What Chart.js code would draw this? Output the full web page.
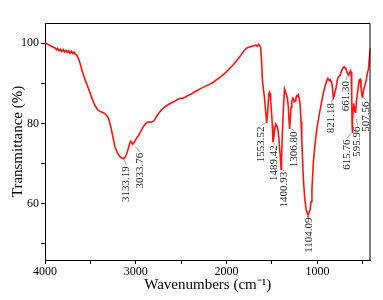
<!DOCTYPE html>
<html>
<head>
<meta charset="utf-8">
<script src="https://cdn.jsdelivr.net/npm/chart.js@4"></script>
<style>
  html, body { margin: 0; padding: 0; background: #fff; }
  #ftir { display: block; }
</style>
</head>
<body>
<canvas id="ftir" width="383" height="300"></canvas>
<script>
// FTIR 스펙트럼 데이터 (파수 cm-1, 투과율 %)
const wavenumbers = [
  4000, 3960, 3920, 3890, 3870, 3860, 3845, 3830, 3815, 3800, 3785, 3770, 3755, 3740, 3725, 3710,
  3695, 3680, 3665, 3650, 3630, 3614, 3590, 3559, 3530, 3504, 3475, 3449, 3420, 3394, 3360, 3339,
  3315, 3300, 3285, 3269, 3250, 3232, 3205, 3177, 3150, 3133, 3115, 3100, 3082, 3065, 3056, 3045,
  3034, 3020, 2995, 2972, 2945, 2917, 2890, 2862, 2835, 2807, 2790, 2770, 2745, 2717, 2680, 2641,
  2600, 2571, 2540, 2516, 2480, 2458, 2420, 2384, 2340, 2292, 2250, 2200, 2150, 2108, 2060, 2017,
  1970, 1926, 1890, 1852, 1815, 1778, 1740, 1705, 1680, 1660, 1650, 1635, 1624, 1615, 1606, 1595,
  1584, 1570, 1558, 1548, 1536, 1528, 1521, 1514, 1507, 1496, 1489, 1480, 1470, 1460, 1450, 1436,
  1425, 1415, 1405, 1400, 1395, 1385, 1374, 1362, 1356, 1345, 1330, 1320, 1310, 1306, 1300, 1290,
  1282, 1270, 1264, 1255, 1246, 1237, 1227, 1218, 1209, 1200, 1190, 1180, 1172, 1163, 1154, 1140,
  1124, 1110, 1104, 1095, 1080, 1070, 1060, 1044, 1025, 1007, 990, 970, 950, 934, 915, 897,
  885, 870, 860, 850, 842, 832, 824, 815, 805, 794, 780, 769, 750, 732, 718, 706,
  695, 686, 677, 665, 655, 645, 635, 629, 622, 618, 615, 612, 606, 600, 596, 590,
  584, 578, 570, 556, 545, 538, 530, 520, 510, 505, 500, 490, 475, 460, 450, 438,
  428, 420, 415
];
const transmittance = [
  100, 99.6, 99.1, 98.8, 98.3, 98.7, 98.1, 98.5, 97.9, 98.4, 97.8, 98.2, 97.7, 98.1, 97.5, 98.0,
  97.4, 97.8, 97.2, 97.0, 96.0, 95.0, 93.0, 90.9, 89.2, 87.6, 85.8, 84.4, 83.4, 83.0, 82.7, 82.4,
  81.8, 81.2, 80.0, 78.5, 76.4, 74.4, 72.8, 71.8, 71.3, 71.2, 71.6, 72.5, 73.8, 75.2, 75.6, 75.3,
  74.8, 75.2, 76.2, 76.9, 78.0, 79.2, 80.0, 80.4, 80.3, 80.5, 81.0, 81.8, 82.6, 83.4, 84.1, 84.7,
  85.2, 85.5, 86.0, 86.2, 86.3, 86.5, 87.0, 87.4, 88.0, 88.6, 89.1, 89.6, 90.2, 90.9, 91.7, 92.5,
  93.6, 94.6, 95.6, 96.7, 97.9, 98.8, 99.1, 99.3, 99.5, 99.2, 99.7, 99.4, 98.8, 95.5, 90.9, 88.5,
  86.7, 83.0, 80.1, 82.5, 87.2, 87.8, 87.4, 85.5, 83.4, 79.5, 75.3, 76.5, 78.5, 79.9, 79.5, 78.6,
  76.5, 73.5, 70.5, 68.6, 71.0, 78.0, 84.0, 88.6, 88.2, 87.3, 86.4, 84.0, 80.0, 78.6, 80.5, 84.0,
  85.5, 86.3, 86.1, 85.4, 85.6, 86.3, 86.9, 86.8, 87.1, 86.2, 84.7, 80.5, 76.0, 71.0, 66.0, 61.5,
  58.5, 57.5, 57.2, 57.6, 58.6, 60.5, 63.5, 70.5, 75.0, 78.5, 80.8, 83.4, 85.8, 87.6, 89.3, 90.6,
  91.2, 90.7, 90.9, 90.4, 90.2, 88.5, 86.3, 86.8, 87.9, 88.9, 90.8, 91.6, 92.0, 93.2, 93.8, 94.1,
  93.8, 93.5, 93.0, 92.3, 92.0, 92.6, 93.1, 92.8, 87.0, 80.0, 77.6, 80.5, 83.9, 85.0, 84.2, 83.2,
  82.8, 83.0, 85.5, 88.0, 90.0, 90.8, 91.0, 89.0, 87.0, 86.6, 87.0, 88.5, 89.6, 91.0, 92.5, 93.5,
  96.0, 98.3, 98.8
];

// 피크 표시
const peakNames = ['3133.19', '3033.76', '1553.52', '1489.42', '1400.93', '1306.80',
  '1104.09', '821.18', '661.30', '615.76', '595.96', '507.56'];
const peakWn = [3133, 3034, 1558, 1489, 1400, 1306, 1104, 824, 665, 615, 596, 505];

// 축 눈금
const xMin = 415, xMax = 4000;
const xTicks = [500, 1000, 1500, 2000, 2500, 3000, 3500, 4000];
const xTickLabels = [1000, 2000, 3000, 4000];
const yMin = 46, yMax = 105;
const yTicks = [50, 60, 70, 80, 90, 100];
const yTickLabels = [60, 80, 100];

const serif = "'Liberation Serif', 'Times New Roman', serif";

// 라벨 위치 보정 (픽셀: 가로 오프셋, 피크 아래 간격)
const peakOffsets = [
  [2.5, 7.5], [7, 8.5], [-6, 3.5], [1.5, 3], [3, 2.5], [4.5, 2.5],
  [1, 2.5], [-2, 5], [-1.5, 7], [-5.5, 6.5], [3.5, 20], [4, 4.5]
];

const peakLabels = {
  id: 'peakLabels',
  afterDatasetsDraw(chart) {
    const { ctx, scales: { x, y } } = chart;
    ctx.save();
    ctx.font = '11px ' + serif;
    peakNames.forEach((name, i) => {
      const idx = wavenumbers.indexOf(peakWn[i]);
      const px = x.getPixelForValue(wavenumbers[idx]);
      const py = y.getPixelForValue(transmittance[idx]);
      const [dx, gap] = peakOffsets[i];
      const tx = px + dx, ty = py + gap;
      // 리더선
      const vx = px - tx, vy = py - ty;
      const d = Math.hypot(vx, vy);
      const len = Math.min(d - 1.5, 7);
      ctx.strokeStyle = '#8a8a8a';
      ctx.lineWidth = 0.8;
      ctx.beginPath();
      ctx.moveTo(tx, ty - 1);
      ctx.lineTo(tx + vx / d * len, ty - 1 + vy / d * len);
      ctx.stroke();
      // 세로 텍스트
      ctx.translate(tx, ty);
      ctx.rotate(-Math.PI / 2);
      ctx.fillStyle = '#222';
      ctx.textAlign = 'right';
      ctx.textBaseline = 'middle';
      ctx.fillText(name, 0, 0);
      ctx.setTransform(1, 0, 0, 1, 0, 0);
    });
    ctx.restore();
  }
};

const frame = {
  id: 'frame',
  afterDraw(chart) {
    const { ctx, chartArea: a } = chart;
    ctx.save();
    ctx.strokeStyle = '#000';
    ctx.lineWidth = 1;
    ctx.beginPath();
    ctx.moveTo(a.left, a.top + 0.5);
    ctx.lineTo(a.right - 0.5, a.top + 0.5);
    ctx.lineTo(a.right - 0.5, a.bottom);
    ctx.stroke();
    ctx.restore();
  }
};

new Chart(document.getElementById('ftir'), {
  type: 'line',
  data: {
    datasets: [{
      data: wavenumbers.map((w, i) => ({ x: w, y: transmittance[i] })),
      borderColor: '#ff1414',
      borderWidth: 1.6,
      pointRadius: 0,
      tension: 0,
      fill: false,
    }],
  },
  options: {
    responsive: false,
    animation: false,
    devicePixelRatio: 1,
    layout: { padding: { top: 23, right: 12.5, left: 0, bottom: 0 } },
    plugins: { legend: { display: false }, tooltip: { enabled: false } },
    scales: {
      x: {
        type: 'linear',
        reverse: true,
        min: xMin,
        max: xMax,
        afterBuildTicks: (s) => { s.ticks = xTicks.map((v) => ({ value: v })); },
        afterFit: (s) => { s.height = 40; },
        ticks: {
          autoSkip: false,
          maxRotation: 0,
          padding: 1,
          color: '#000',
          font: { family: serif, size: 12 },
          callback: (v) => (xTickLabels.includes(v) ? v : ''),
        },
        grid: { drawOnChartArea: false, tickLength: 4, color: '#000' },
        border: { color: '#000', width: 1 },
        title: {
          display: true,
          text: 'Wavenumbers (cm⁻¹)',
          color: '#000',
          font: { family: serif, size: 15 },
          padding: { top: 0, bottom: 6 },
        },
      },
      y: {
        min: yMin,
        max: yMax,
        afterBuildTicks: (s) => { s.ticks = yTicks.map((v) => ({ value: v })); },
        afterFit: (s) => { s.width = 45; },
        ticks: {
          autoSkip: false,
          padding: 2,
          color: '#000',
          font: { family: serif, size: 12 },
          callback: (v) => (yTickLabels.includes(v) ? v : ''),
        },
        grid: { drawOnChartArea: false, tickLength: 4, color: '#000' },
        border: { color: '#000', width: 1 },
        title: {
          display: true,
          text: 'Transmittance (%)',
          color: '#000',
          font: { family: serif, size: 15 },
          padding: { top: 9, bottom: 0 },
        },
      },
    },
  },
  plugins: [peakLabels, frame],
});
</script>
</body>
</html>
